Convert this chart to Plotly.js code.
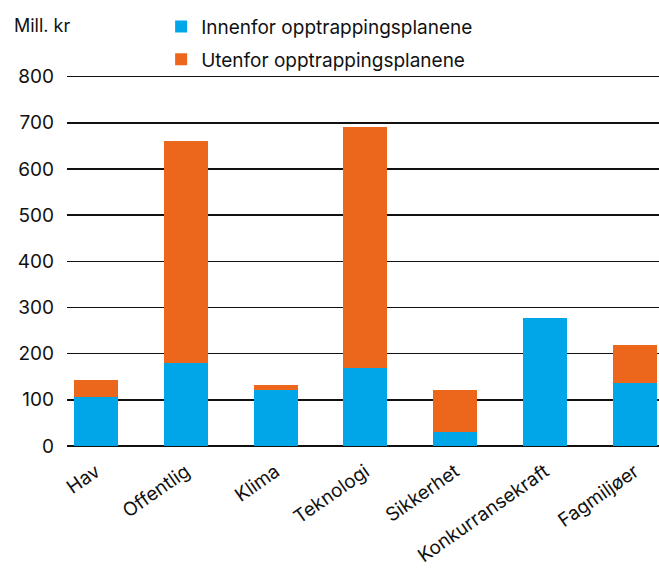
<!DOCTYPE html>
<html>
<head>
<meta charset="utf-8">
<script src="https://cdn.plot.ly/plotly-3.0.1.min.js"></script>
<style>html,body{margin:0;padding:0;background:#fff;}#chart{width:659px;height:570px;}</style>
</head>
<body>
<div id="chart"></div>
<script>
const categories = ["Hav", "Offentlig", "Klima", "Teknologi", "Sikkerhet", "Konkurransekraft", "Fagmiljøer"];
const innenfor = [106, 179, 121, 168, 31, 277, 136];
const utenfor = [37, 482, 11, 523, 90, 0, 83];
const yTicks = [0, 100, 200, 300, 400, 500, 600, 700, 800];
const seriesNames = ["Innenfor opptrappingsplanene", "Utenfor opptrappingsplanene"];
const colors = ["#00A6E8", "#EC671C"];

const FONT = "Inter, 'Noto Sans', sans-serif";

const traces = [
  {type: "bar", name: seriesNames[0], legendgroup: "a", x: categories, y: innenfor, marker: {color: colors[0]}, width: 0.49},
  {type: "bar", name: seriesNames[1], legendgroup: "b", x: categories, y: utenfor, marker: {color: colors[1]}, width: 0.49}
];

const layout = {
  width: 659, height: 570,
  margin: {l: 67, r: 0, t: 72, b: 124},
  barmode: "stack",
  paper_bgcolor: "#fff", plot_bgcolor: "#fff",
  font: {family: FONT, size: 19, color: "#111"},
  xaxis: {
    range: [-0.323, 6.27],
    tickangle: -35,
    tickfont: {size: 19, color: "#111"},
    showgrid: false, showline: false, zeroline: false,
    ticks: "", ticklabelstandoff: 10
  },
  yaxis: {
    range: [0, 810],
    tickvals: yTicks,
    tickfont: {size: 19, color: "#111"},
    showgrid: true, gridcolor: "#111", gridwidth: 1.5,
    zeroline: true, zerolinecolor: "#111", zerolinewidth: 1.5,
    showline: false, ticks: "", ticklabelstandoff: 12
  },
  legend: {
    x: 0.159, y: 1.172, xanchor: "left", yanchor: "top",
    orientation: "v", traceorder: "grouped", tracegroupgap: 5,
    font: {size: 19, color: "#111"},
    bgcolor: "rgba(0,0,0,0)"
  },
  showlegend: true,
  annotations: [{
    xref: "paper", yref: "paper", x: -0.093, y: 1.124, xanchor: "left", yanchor: "middle",
    text: "Mill. kr", showarrow: false, font: {size: 18, color: "#111"}
  }]
};

Plotly.newPlot("chart", traces, layout, {displayModeBar: false, staticPlot: true});
</script>
</body>
</html>
